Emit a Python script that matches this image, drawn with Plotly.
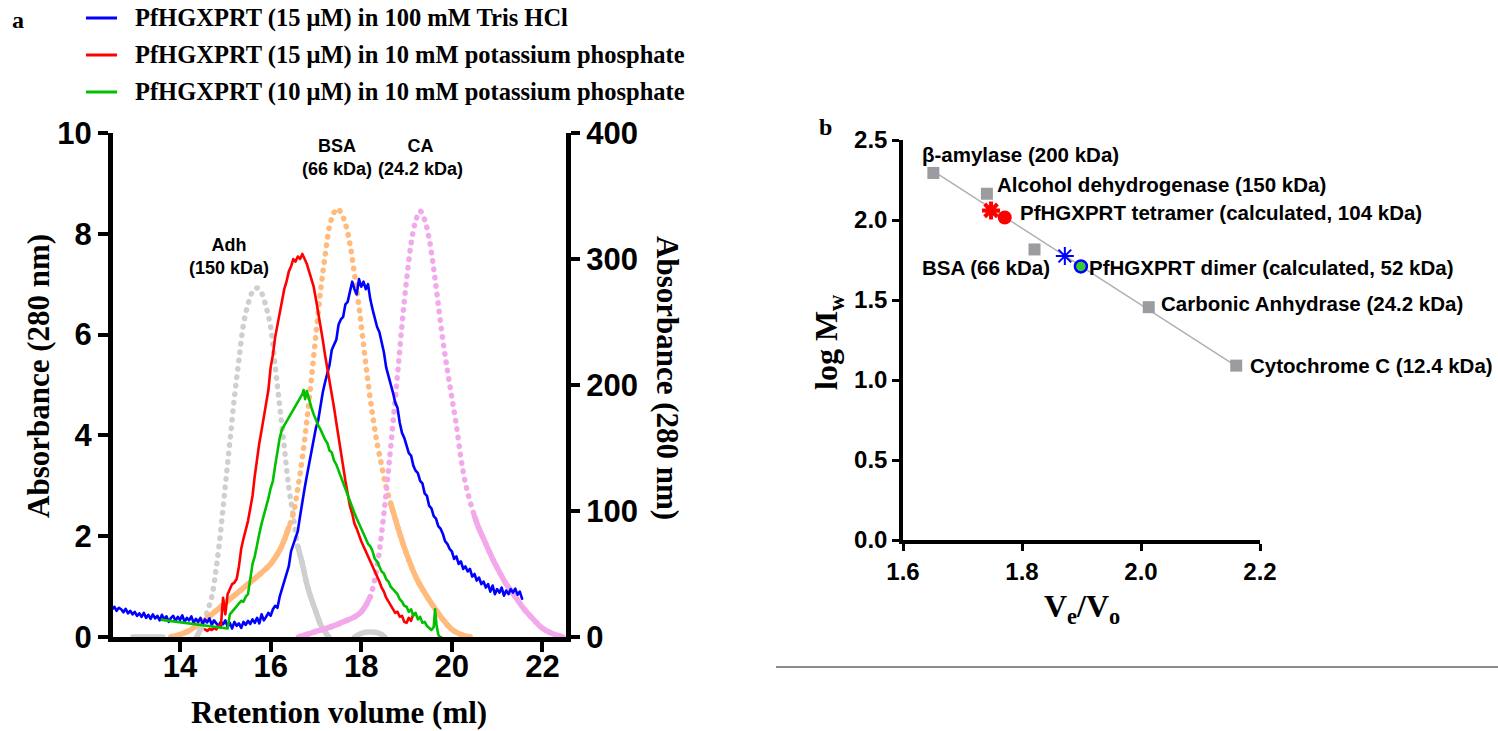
import numpy as np
import plotly.graph_objects as go

W, H = 1498, 731

# ---------------- Panel a : sample chromatograms (left axis, A280) ----------------
blue_x = [12.50, 12.55, 12.60, 12.65, 12.70, 12.75, 12.80, 12.85, 12.90, 12.95,
          13.00, 13.05, 13.10, 13.15, 13.20, 13.25, 13.30, 13.35, 13.40, 13.45,
          13.50, 13.55, 13.60, 13.65, 13.70, 13.75, 13.80, 13.85, 13.90, 13.95,
          14.00, 14.05, 14.10, 14.15, 14.20, 14.25, 14.30, 14.35, 14.40, 14.45,
          14.50, 14.55, 14.60, 14.65, 14.70, 14.75, 14.80, 14.85, 14.90, 14.95,
          15.00, 15.05, 15.10, 15.15, 15.20, 15.25, 15.30, 15.35, 15.40, 15.45,
          15.50, 15.55, 15.60, 15.65, 15.70, 15.75, 15.80, 15.85, 15.90, 15.95,
          16.00, 16.05, 16.10, 16.15, 16.20, 16.25, 16.30, 16.35, 16.40, 16.45,
          16.50, 16.55, 16.60, 16.65, 16.70, 16.75, 16.80, 16.85, 16.90, 16.95,
          17.00, 17.05, 17.10, 17.15, 17.20, 17.25, 17.30, 17.35, 17.40, 17.45,
          17.50, 17.55, 17.60, 17.65, 17.70, 17.75, 17.80, 17.85, 17.90, 17.95,
          18.00, 18.05, 18.10, 18.15, 18.20, 18.25, 18.30, 18.35, 18.40, 18.45,
          18.50, 18.55, 18.60, 18.65, 18.70, 18.75, 18.80, 18.85, 18.90, 18.95,
          19.00, 19.05, 19.10, 19.15, 19.20, 19.25, 19.30, 19.35, 19.40, 19.45,
          19.50, 19.55, 19.60, 19.65, 19.70, 19.75, 19.80, 19.85, 19.90, 19.95,
          20.00, 20.05, 20.10, 20.15, 20.20, 20.25, 20.30, 20.35, 20.40, 20.45,
          20.50, 20.55, 20.60, 20.65, 20.70, 20.75, 20.80, 20.85, 20.90, 20.95,
          21.00, 21.05, 21.10, 21.15, 21.20, 21.25, 21.30, 21.35, 21.40, 21.45,
          21.50, 21.55]
blue_y = [0.55, 0.60, 0.52, 0.58, 0.55, 0.49, 0.56, 0.47, 0.52, 0.45,
          0.50, 0.42, 0.47, 0.40, 0.48, 0.38, 0.44, 0.36, 0.45, 0.37,
          0.42, 0.33, 0.44, 0.35, 0.41, 0.30, 0.38, 0.42, 0.32, 0.40,
          0.34, 0.43, 0.30, 0.38, 0.33, 0.41, 0.28, 0.36, 0.30, 0.38,
          0.26, 0.35, 0.29, 0.37, 0.24, 0.33, 0.27, 0.22, 0.30, 0.25,
          0.33, 0.20, 0.28, 0.17, 0.30, 0.22, 0.27, 0.18, 0.30, 0.24,
          0.32, 0.26, 0.35, 0.28, 0.38, 0.27, 0.45, 0.33, 0.40, 0.48,
          0.42, 0.55, 0.62, 0.58, 0.80, 0.95, 1.10, 1.20, 1.40, 1.70,
          1.85, 1.95, 2.10, 2.40, 2.70, 2.95, 3.20, 3.45, 3.70, 3.95,
          4.15, 4.30, 4.60, 4.85, 5.05, 5.25, 5.40, 5.70, 5.80, 5.90,
          6.20, 6.30, 6.35, 6.60, 6.65, 6.85, 7.05, 6.90, 6.80, 7.10,
          6.95, 7.05, 6.90, 7.00, 6.70, 6.50, 6.30, 6.15, 6.05, 5.85,
          5.65, 5.35, 5.20, 5.00, 4.85, 4.65, 4.55, 4.25, 4.05, 3.95,
          3.80, 3.65, 3.60, 3.40, 3.30, 3.25, 3.10, 3.05, 2.85, 2.80,
          2.60, 2.55, 2.40, 2.35, 2.20, 2.15, 2.05, 1.90, 1.85, 1.75,
          1.70, 1.55, 1.60, 1.45, 1.50, 1.35, 1.40, 1.30, 1.35, 1.20,
          1.25, 1.12, 1.18, 1.05, 1.10, 0.98, 1.05, 0.90, 1.02, 0.85,
          0.95, 0.88, 0.98, 0.82, 0.92, 0.85, 0.95, 0.88, 0.96, 0.84,
          0.90, 0.76]

red_x = [14.55, 14.60, 14.65, 14.70, 14.75, 14.80, 14.85, 14.90, 14.95,
         15.00, 15.05, 15.10, 15.15, 15.20, 15.25, 15.30, 15.35, 15.40, 15.45,
         15.50, 15.55, 15.60, 15.65, 15.70, 15.75, 15.80, 15.85, 15.90, 15.95,
         16.00, 16.05, 16.10, 16.15, 16.20, 16.25, 16.30, 16.35, 16.40, 16.45,
         16.50, 16.55, 16.60, 16.65, 16.70, 16.75, 16.80, 16.85, 16.90, 16.95,
         17.00, 17.05, 17.10, 17.15, 17.20, 17.25, 17.30, 17.35, 17.40, 17.45,
         17.50, 17.55, 17.60, 17.65, 17.70, 17.75, 17.80, 17.85, 17.90, 17.95,
         18.00, 18.05, 18.10, 18.15, 18.20, 18.25, 18.30, 18.35, 18.40, 18.45,
         18.50, 18.55, 18.60, 18.65, 18.70, 18.75, 18.80, 18.85, 18.90, 18.95,
         19.00, 19.05, 19.10, 19.15]
red_y = [0.15, 0.12, 0.16, 0.14, 0.18, 0.15, 0.22, 0.20, 0.78,
         0.45, 0.85, 0.95, 1.05, 1.08, 1.15, 1.40, 1.75, 1.95, 2.10,
         2.30, 2.55, 2.80, 3.20, 3.55, 3.85, 4.10, 4.35, 4.60, 4.90,
         5.35, 5.60, 5.95, 6.20, 6.45, 6.70, 6.90, 7.05, 7.25, 7.35,
         7.50, 7.45, 7.55, 7.50, 7.60, 7.50, 7.40, 7.25, 7.10, 6.95,
         6.70, 6.45, 6.15, 5.90, 5.60, 5.35, 5.10, 4.85, 4.55, 4.25,
         3.95, 3.65, 3.40, 3.10, 2.85, 2.60, 2.45, 2.25, 2.15, 2.00,
         1.90, 1.80, 1.70, 1.60, 1.50, 1.40, 1.32, 1.20, 1.10, 0.98,
         0.90, 0.78, 0.70, 0.62, 0.55, 0.48, 0.50, 0.40, 0.42, 0.30,
         0.28, 0.38, 0.32, 0.46]

green_x = [13.60, 15.05, 15.10, 15.15, 15.20, 15.25, 15.30, 15.35, 15.40, 15.45,
           15.50, 15.55, 15.60, 15.65, 15.70, 15.75, 15.80, 15.85, 15.90, 15.95,
           16.00, 16.05, 16.10, 16.15, 16.20, 16.25, 16.30, 16.70, 16.73, 16.76,
           16.80, 16.85, 16.90, 16.95, 17.00, 17.05, 17.10, 17.15, 17.20, 17.25,
           17.30, 17.35, 17.40, 17.45, 17.50, 17.55, 17.60, 17.65, 17.70, 17.75,
           17.80, 17.85, 17.90, 17.95, 18.00, 18.05, 18.10, 18.15, 18.20, 18.25,
           18.30, 18.35, 18.40, 18.45, 18.50, 18.55, 18.60, 18.65, 18.70, 18.75,
           18.80, 18.85, 18.90, 18.95, 19.00, 19.05, 19.10, 19.15, 19.20, 19.25,
           19.30, 19.35, 19.40, 19.45, 19.50, 19.55, 19.60, 19.63, 19.66, 19.70,
           19.73, 19.76]
green_y = [0.34, 0.17, 0.45, 0.50, 0.55, 0.62, 0.65, 0.72, 0.70, 0.80,
           0.85, 1.20, 1.45, 1.60, 1.85, 2.05, 2.25, 2.40, 2.55, 2.75,
           2.95, 3.10, 3.40, 3.70, 3.95, 4.12, 4.20, 4.82, 4.90, 4.72,
           4.88, 4.70, 4.55, 4.42, 4.30, 4.20, 4.12, 4.00, 3.92, 3.85,
           3.70, 3.66, 3.50, 3.42, 3.30, 3.15, 3.06, 2.90, 2.82, 2.70,
           2.55, 2.46, 2.35, 2.25, 2.16, 2.05, 1.96, 1.85, 1.80, 1.70,
           1.55, 1.50, 1.40, 1.30, 1.26, 1.15, 1.10, 1.00, 0.95, 0.90,
           0.85, 0.75, 0.70, 0.62, 0.60, 0.50, 0.55, 0.42, 0.48, 0.35,
           0.40, 0.28, 0.30, 0.22, 0.18, 0.14, 0.20, 0.55, 0.25, 0.05,
           0.00, 0.00]

# ---------------- Panel a : calibration standards (right axis) ----------------
bsa_x = [13.80, 14.00, 14.20, 14.40, 14.60, 14.80, 15.00, 15.20, 15.40, 15.60,
         15.80, 16.00, 16.20, 16.30, 16.40, 16.50, 16.60, 16.70, 16.80, 16.90,
         17.00, 17.10, 17.20, 17.30, 17.40, 17.47, 17.55, 17.65, 17.75, 17.85,
         17.95, 18.05, 18.15, 18.25, 18.35, 18.45, 18.55, 18.65, 18.75, 18.85,
         19.00, 19.20, 19.40, 19.60, 19.80, 20.00, 20.20, 20.40]
bsa_y = [0, 2, 5, 10, 15, 21, 27, 33, 39, 45,
         51, 58, 69, 77, 87, 98, 118, 142, 172, 205,
         240, 274, 302, 326, 337, 340, 337, 328, 312, 288,
         262, 232, 202, 176, 154, 136, 119, 106, 94, 82,
         66, 48, 35, 24, 14, 6, 2, 0]

ca_x = [16.62, 16.80, 17.00, 17.20, 17.40, 17.60, 17.80, 17.90, 18.00, 18.10,
        18.20, 18.30, 18.40, 18.50, 18.60, 18.70, 18.80, 18.90, 19.00, 19.10,
        19.20, 19.30, 19.40, 19.50, 19.60, 19.70, 19.80, 19.90, 20.00, 20.10,
        20.20, 20.30, 20.40, 20.50, 20.60, 20.70, 20.80, 20.90, 21.00, 21.20,
        21.40, 21.60, 21.80, 22.00, 22.20, 22.45]
ca_y = [0, 2, 4.5, 6.5, 9, 12, 15, 17, 20, 25,
        32, 46, 68, 98, 132, 170, 208, 248, 283, 312,
        330, 338, 331, 316, 292, 264, 236, 212, 190, 168,
        142, 122, 108, 96, 86, 78, 70, 62, 55, 42,
        32, 22, 14, 7, 3, 0]

adh_x = [14.37, 14.50, 14.60, 14.70, 14.80, 14.90, 15.00, 15.10, 15.20, 15.30,
         15.40, 15.50, 15.60, 15.70, 15.80, 15.90, 16.00, 16.10, 16.20, 16.30,
         16.40, 16.50, 16.60, 16.70, 16.80, 16.90, 17.00, 17.10, 17.20, 17.29]
adh_y = [0, 10, 20, 32, 55, 85, 120, 155, 190, 220,
         248, 264, 274, 277, 273, 262, 246, 215, 183, 151,
         119, 96, 72, 58, 42, 30, 20, 10, 4, 0]
adh_base_x = [12.96, 13.62, None, 17.85, 17.95, 18.05, 18.15, 18.25, 18.35, 18.45, 18.52]
adh_base_y = [0, 0, None, 0, 2, 3.5, 4, 4, 3.5, 2, 0]

peak_labels = ["Adh<br>(150 kDa)", "BSA<br>(66 kDa)", "CA<br>(24.2 kDa)"]
peak_label_x = [15.07, 17.46, 19.31]
peak_label_y = [7.54, 9.52, 9.52]

legend_names = ["PfHGXPRT (15 μM) in 100 mM Tris HCl",
                "PfHGXPRT (15 μM) in 10 mM potassium phosphate",
                "PfHGXPRT (10 μM) in 10 mM potassium phosphate"]

# ---------------- Panel b : calibration ----------------
std_names = ["β-amylase (200 kDa)", "Alcohol dehydrogenase (150 kDa)", "BSA (66 kDa)",
             "Carbonic Anhydrase (24.2 kDa)", "Cytochrome C (12.4 kDa)"]
std_ve_vo = [1.651, 1.741, 1.821, 2.013, 2.160]
std_logmw = [2.294, 2.164, 1.816, 1.455, 1.090]
tet_star = (1.748, 2.060)
tet_circle = (1.771, 2.016)
dim_star = (1.872, 1.775)
dim_circle = (1.899, 1.710)

# ---------------- style ----------------
BLUE, RED, GREEN = "#0000FF", "#FF0000", "#00C000"
ORANGE, PINK, LGRAY = "#FFBA7C", "#F4A8EC", "#CFCFCF"
SQGRAY = "#9C9CA0"
SANS = "Liberation Sans, Arial, sans-serif"
SERIF = "Liberation Serif, Times New Roman, serif"
DOT = "0.5px,8px"
LW_STD = 5.5


def pxx(v):
    return v / W


def pxy(v):
    return 1 - v / H


fig = go.Figure()


def add_standard(x, y, color, solid_lo, solid_hi):
    fig.add_trace(go.Scatter(x=x, y=y, mode="lines", xaxis="x", yaxis="y",
                             line=dict(color=color, width=LW_STD, dash=DOT, shape="spline"),
                             hoverinfo="skip", showlegend=False))
    sx, sy = [], []
    for a, b in zip(x, y):
        if a <= solid_lo:
            sx.append(a); sy.append(b)
    sx.append(None); sy.append(None)
    for a, b in zip(x, y):
        if a >= solid_hi:
            sx.append(a); sy.append(b)
    fig.add_trace(go.Scatter(x=sx, y=sy, mode="lines", xaxis="x", yaxis="y",
                             line=dict(color=color, width=LW_STD, shape="spline"),
                             connectgaps=False, hoverinfo="skip", showlegend=False))


add_standard(adh_x, adh_y, LGRAY, 14.5, 16.55)
fig.add_trace(go.Scatter(x=adh_base_x, y=adh_base_y, mode="lines", xaxis="x", yaxis="y",
                         line=dict(color=LGRAY, width=LW_STD, shape="spline"),
                         connectgaps=False, hoverinfo="skip", showlegend=False))
add_standard(bsa_x, bsa_y, ORANGE, 16.45, 18.6)
add_standard(ca_x, ca_y, PINK, 18.22, 20.5)

for xs, ys, c in [(blue_x, blue_y, BLUE), (red_x, red_y, RED), (green_x, green_y, GREEN)]:
    fig.add_trace(go.Scatter(x=xs, y=ys, mode="lines", xaxis="x", yaxis="y2",
                             line=dict(color=c, width=2.6), showlegend=False))

# panel b
fit = np.polyfit(std_ve_vo, std_logmw, 1)
fx = [min(std_ve_vo), max(std_ve_vo)]
fig.add_trace(go.Scatter(x=fx, y=list(np.polyval(fit, fx)), mode="lines", xaxis="x2", yaxis="y3",
                         line=dict(color="#B0B0B0", width=1.5), showlegend=False))
fig.add_trace(go.Scatter(x=std_ve_vo, y=std_logmw, mode="markers", xaxis="x2", yaxis="y3",
                         marker=dict(symbol="square", size=12, color=SQGRAY), showlegend=False))
fig.add_trace(go.Scatter(x=[tet_star[0]], y=[tet_star[1]], mode="markers", xaxis="x2", yaxis="y3",
                         marker=dict(symbol="asterisk-open", size=15, color=RED,
                                     line=dict(color=RED, width=4)),
                         showlegend=False))
fig.add_trace(go.Scatter(x=[tet_circle[0]], y=[tet_circle[1]], mode="markers", xaxis="x2", yaxis="y3",
                         marker=dict(symbol="circle", size=14, color=RED), showlegend=False))
fig.add_trace(go.Scatter(x=[dim_star[0]], y=[dim_star[1]], mode="markers", xaxis="x2", yaxis="y3",
                         marker=dict(symbol="asterisk-open", size=15, color=BLUE,
                                     line=dict(color=BLUE, width=2)),
                         showlegend=False))
fig.add_trace(go.Scatter(x=[dim_circle[0]], y=[dim_circle[1]], mode="markers", xaxis="x2", yaxis="y3",
                         marker=dict(symbol="circle", size=12, color="#33CC33",
                                     line=dict(color=BLUE, width=2.5)), showlegend=False))

axis_common = dict(showline=True, linecolor="black", ticks="outside", tickcolor="black",
                   showgrid=False, zeroline=False, automargin=False)
tick_a = dict(family=SANS, size=31, color="black", weight="bold")
tick_b = dict(family=SANS, size=24, color="black", weight="bold")

fig.update_layout(
    width=W, height=H, margin=dict(l=0, r=0, t=0, b=0, pad=0), autosize=False,
    paper_bgcolor="white", plot_bgcolor="rgba(0,0,0,0)", showlegend=False,
    xaxis=dict(domain=[pxx(113), pxx(566)], range=[12.52, 22.52], tickvals=[14, 16, 18, 20, 22],
               linewidth=5, tickwidth=4, ticklen=10, tickfont=tick_a, anchor="y",
               ticklabelstandoff=-12, **axis_common),
    yaxis=dict(domain=[pxy(637), pxy(133)], range=[0, 400], tickvals=[0, 100, 200, 300, 400],
               side="right", anchor="x", linewidth=5, tickwidth=4, ticklen=9, tickfont=tick_a,
               **axis_common),
    yaxis2=dict(range=[0, 10], tickvals=[0, 2, 4, 6, 8, 10], overlaying="y", side="left",
                anchor="x", linewidth=5, tickwidth=4, ticklen=10, tickfont=tick_a, **axis_common),
    xaxis2=dict(domain=[pxx(903), pxx(1260)], range=[1.6, 2.2], tickvals=[1.6, 1.8, 2.0, 2.2],
                tickformat=".1f", anchor="y3", linewidth=3.5, tickwidth=3, ticklen=7,
                tickfont=tick_b, **axis_common),
    yaxis3=dict(domain=[pxy(540), pxy(140)], range=[0, 2.5], tickvals=[0, 0.5, 1.0, 1.5, 2.0, 2.5],
                tickformat=".1f", anchor="x2", linewidth=3.5, tickwidth=3, ticklen=7,
                tickfont=tick_b, **axis_common),
)

ann = []
serif_b = lambda s: dict(family=SERIF, size=s, color="black", weight="bold")


def note(x, y, text, font, xref="paper", yref="paper", xanchor="center", textangle=0):
    ann.append(dict(x=x, y=y, xref=xref, yref=yref, text=text, font=font, showarrow=False,
                    xanchor=xanchor, yanchor="middle", textangle=textangle))


# panel a titles
note(pxx(38), pxy(376), "Absorbance (280 nm)", serif_b(31), textangle=-90)
note(pxx(668), pxy(378), "Absorbance (280 nm)", serif_b(31), textangle=90)
note(pxx(339), pxy(712), "Retention volume (ml)", serif_b(31))
note(pxx(18), pxy(20), "a", serif_b(24))
for name, col, yy in zip(legend_names, [BLUE, RED, GREEN], [18, 55, 92]):
    fig.add_shape(type="line", xref="paper", yref="paper", x0=pxx(86), x1=pxx(117),
                  y0=pxy(yy), y1=pxy(yy), line=dict(color=col, width=3))
    note(pxx(133), pxy(yy), name, serif_b(24.5), xanchor="left")
for t, xx, yy in zip(peak_labels, peak_label_x, peak_label_y):
    note(xx, yy, t, dict(family=SANS, size=18, color="black", weight="bold"), xref="x", yref="y2")

# panel b titles & labels
note(pxx(826), pxy(127), "b", serif_b(24))
note(pxx(828), pxy(342), "log M<sub>w</sub>", serif_b(32), textangle=-90)
note(pxx(1082), pxy(608), "V<sub>e</sub>/V<sub>o</sub>", serif_b(32))
lab_font = dict(family=SANS, size=20.5, color="black", weight="bold")
b_labels = [(std_names[0], 1.629, 2.41, "left"),
            (std_names[1], 1.755, 2.222, "left"),
            ("PfHGXPRT tetramer (calculated, 104 kDa)", 1.793, 2.046, "left"),
            (std_names[2], 1.851, 1.706, "right"),
            ("PfHGXPRT dimer (calculated, 52 kDa)", 1.910, 1.706, "left"),
            (std_names[3], 2.030, 1.479, "left"),
            (std_names[4], 2.179, 1.093, "left")]
for t, xx, yy, anc in b_labels:
    note(xx, yy, t, lab_font, xref="x2", yref="y3", xanchor=anc)

fig.add_shape(type="line", xref="paper", yref="paper", x0=pxx(776), x1=1.0, y0=pxy(667),
              y1=pxy(667), line=dict(color="#8C8C8C", width=2))
fig.update_layout(annotations=ann)

post = ("document.querySelectorAll('path.js-line').forEach(function(p){"
        "p.style.strokeLinecap='round';p.style.strokeLinejoin='round';});")
fig.write_html("out.html", post_script=post)
